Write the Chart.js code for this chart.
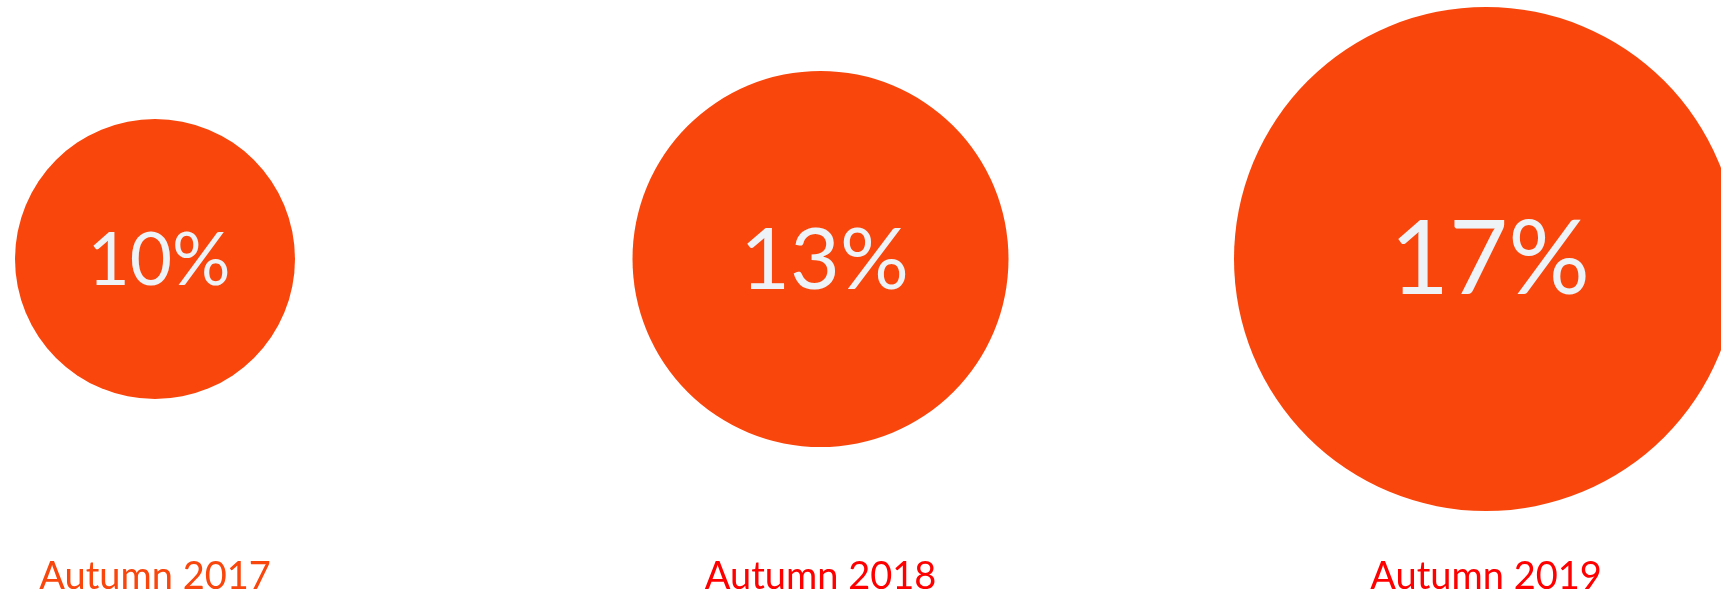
<!DOCTYPE html>
<html>
<head>
<meta charset="utf-8">
<script src="https://cdn.jsdelivr.net/npm/chart.js@4/dist/chart.umd.min.js"></script>
<style>
  html, body { margin: 0; padding: 0; background: #ffffff; }
  #wrap { width: 1721px; height: 596px; position: relative; }
</style>
</head>
<body>
<div id="wrap"><canvas id="chart"></canvas></div>
<script>
// Share of respondents per survey wave
const categories = ['Autumn 2017', 'Autumn 2018', 'Autumn 2019'];
const shares = [10, 13, 17];
const labelColors = ['#F8460C', '#FF0000', '#FF0000'];

const bubbleColor = '#F8460C';
const textColor = '#EEF3F8';
const fontFamily = 'Lato, "Open Sans", sans-serif';

// Bubble radius and inner text size grow with the share
const radiusFor = v => 16 * v - 20;
const fontFor = v => Math.round(4.2 * v + 31);

// Writes the share inside each bubble
const shareLabels = {
  id: 'shareLabels',
  afterDatasetsDraw(chart) {
    const ctx = chart.ctx;
    const meta = chart.getDatasetMeta(0);
    ctx.save();
    ctx.fillStyle = textColor;
    ctx.textAlign = 'center';
    ctx.textBaseline = 'middle';
    meta.data.forEach((el, i) => {
      const v = shares[i];
      ctx.font = fontFor(v) + 'px ' + fontFamily;
      ctx.fillText(v + '%', el.x + 4, el.y + 2);
    });
    ctx.restore();
  }
};

new Chart(document.getElementById('chart'), {
  type: 'bubble',
  data: {
    labels: categories,
    datasets: [{
      data: shares.map((v, i) => ({ x: categories[i], y: 0, r: radiusFor(v) })),
      backgroundColor: bubbleColor,
      borderWidth: 0,
      clip: false
    }]
  },
  options: {
    responsive: true,
    maintainAspectRatio: false,
    animation: false,
    events: [],
    layout: {
      autoPadding: false,
      padding: { left: 155, right: 235, top: 0, bottom: 0 }
    },
    plugins: {
      legend: { display: false },
      tooltip: { enabled: false }
    },
    scales: {
      x: {
        type: 'category',
        offset: false,
        grid: { display: false },
        border: { display: false },
        afterFit: scale => { scale.height = 78; },
        ticks: {
          autoSkip: false,
          maxRotation: 0,
          padding: 28,
          color: labelColors,
          font: { family: fontFamily, size: 38 }
        }
      },
      y: {
        type: 'linear',
        min: -1,
        max: 1,
        display: false
      }
    }
  },
  plugins: [shareLabels]
});
</script>
</body>
</html>
